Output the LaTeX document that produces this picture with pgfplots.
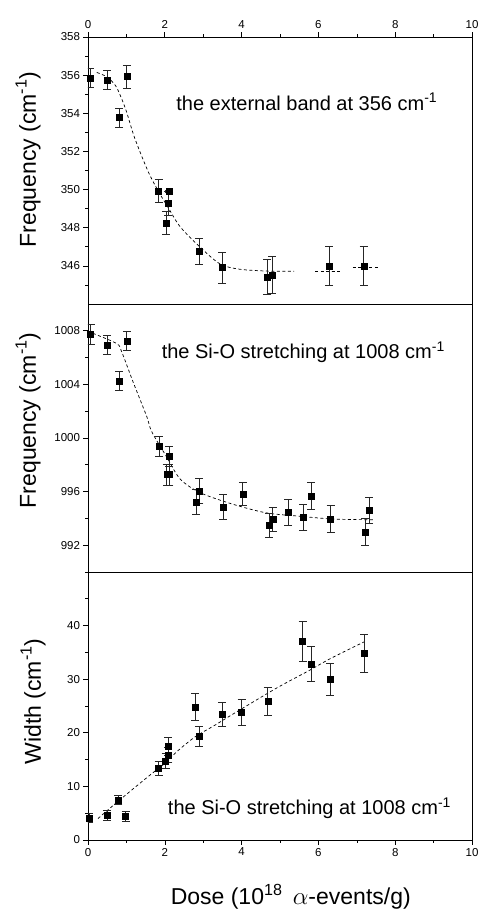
\documentclass[border=0pt]{standalone}
\usepackage{fontspec}
\setmainfont{Liberation Sans}
\usepackage{pgfplots}
\pgfplotsset{compat=1.18}

\pgfplotstableread{
x y e
0.05 355.84 0.50
0.50 355.74 0.50
0.81 353.77 0.50
1.01 355.93 0.60
1.84 349.93 0.60
2.11 349.93 0.05
2.09 349.28 0.65
2.03 348.26 0.60
2.89 346.77 0.70
3.49 345.91 0.80
4.67 345.42 0.90
4.79 345.53 0.95
6.28 346.00 1.00
7.18 346.00 1.00
}\bandtop

\pgfplotstableread{
x y e
0.07 1007.74 0.72
0.50 1006.96 0.73
0.81 1004.26 0.72
1.01 1007.24 0.70
1.86 999.39 0.77
2.11 998.63 0.75
2.05 997.27 0.78
2.12 997.27 0.78
2.81 995.22 0.95
2.90 996.05 0.95
3.52 994.86 0.93
4.03 995.83 0.87
4.71 993.48 0.92
4.81 993.95 0.88
5.21 994.46 0.97
5.61 994.08 0.98
5.81 995.67 1.00
6.32 993.95 1.00
7.22 992.97 1.00
7.32 994.61 1.00
}\sifreq

\pgfplotstableread{
x y e
0.03 4.15 0.85
0.49 4.60 0.85
0.79 7.44 0.85
0.98 4.40 0.87
1.84 13.33 1.33
2.02 14.70 1.40
2.09 15.88 1.40
2.09 17.49 1.70
2.79 24.81 2.50
2.89 19.35 1.90
3.49 23.44 2.30
4.00 23.88 2.40
4.68 25.86 2.60
5.59 37.02 3.70
5.81 32.87 3.25
6.30 29.95 3.00
7.20 34.85 3.50
}\siwidth

\pgfplotsset{
  panel/.style={
    width=384pt, height=268pt, scale only axis,
    xmin=0, xmax=10,
    axis line style={line width=0.8pt},
    tick align=outside,
    major tick length=4.5pt, minor tick length=2.5pt,
    every tick/.style={black, line width=0.6pt},
    tick label style={font=\fontsize{11.5}{11.5}\selectfont},
    /pgf/number format/assume math mode=true,
    /pgf/number format/1000 sep={},
    scaled ticks=false,
    xtick={0,2,...,10}, minor xtick={1,3,...,9},
    ytick pos=left,
  },
  ylab/.style 2 args={every axis y label/.style={at={(rel axis cs:#1,#2)},
    rotate=90, anchor=center, font=\fontsize{23}{23}\selectfont}},
  pts/.style={only marks, mark=square*, mark size=3pt, black,
    error bars/.cd, y dir=both, y explicit,
    error bar style={line width=0.6pt, black!85},
    error mark options={rotate=90, mark size=4pt, line width=0.6pt, black!85}},
  fit/.style={black, line width=0.7pt, dash pattern=on 3pt off 2.5pt, smooth, no markers},
}
\tikzset{note/.style={anchor=west, font=\fontsize{20}{20}\selectfont}}

\begin{document}
\begin{tikzpicture}
% top: external band
\begin{axis}[panel, at={(0,536pt)}, height=267pt,
  ymin=344, ymax=358,
  ytick={346,348,...,358}, minor ytick={345,347,...,357},
  xtick pos=right, xticklabel pos=right,
  ylabel={Frequency (cm\textsuperscript{-1})},
  ylab={-0.156}{0.541},
]
\addplot[fit] coordinates {(0.23,356.14) (0.5,355.9) (0.72,355.44) (0.86,354.84) (1.0,354.1)
  (1.22,352.68) (1.57,350.93) (1.85,349.85) (2.09,349.05) (2.4,348.05) (2.92,346.98)
  (3.44,346.1) (3.96,345.82) (4.74,345.72) (5.37,345.72)};
\addplot[fit] coordinates {(5.92,345.72) (6.55,345.72)};
\addplot[fit] coordinates {(6.9,345.93) (7.6,345.93)};
\addplot[pts] table[x=x, y=y, y error=e] {\bandtop};
\node[note] at (axis cs:2.21,354.6) {the external band at 356 cm\textsuperscript{-1}};
\end{axis}

% middle: Si-O frequency
\begin{axis}[panel, at={(0,268pt)},
  ymin=990, ymax=1010,
  ytick={992,996,...,1008}, minor ytick={990,994,998,1002,1006},
  xtick=\empty, minor xtick={},
  ylabel={Frequency (cm\textsuperscript{-1})},
  ylab={-0.156}{0.566},
]
\addplot[fit] coordinates {(0.0,1008.0) (0.14,1007.8) (0.75,1007.04) (0.88,1006.41) (1.18,1004.14)
  (1.53,1001.6) (1.66,1000.47) (2.05,998.58) (2.4,996.94) (2.92,995.92) (3.78,995.05)
  (4.65,994.41) (5.52,994.16) (6.39,993.95) (7.43,993.9)};
\addplot[pts] table[x=x, y=y, y error=e] {\sifreq};
\node[note] at (axis cs:1.83,1006.4) {the Si-O stretching at 1008 cm\textsuperscript{-1}};
\end{axis}

% bottom: Si-O width
\begin{axis}[panel, at={(0,0)},
  ymin=0, ymax=50,
  ytick={0,10,...,40}, minor ytick={5,15,...,45},
  xtick pos=left, xticklabel pos=left,
  ylabel={Width (cm\textsuperscript{-1})},
  ylab={-0.143}{0.517},
  xlabel={Dose (10\textsuperscript{18}\hspace{0.45em}$\alpha$-events/g)},
  every axis x label/.style={at={(rel axis cs:0.528,-0.211)}, anchor=center,
    font=\fontsize{23}{23}\selectfont},
]
\addplot[fit] coordinates {(0.26,4.0) (0.78,7.2) (1.56,11.8) (2.0,14.3) (2.3,16.4)
  (2.78,19.2) (3.3,21.4) (3.8,23.6) (4.9,28.3) (5.78,31.7) (6.3,33.8) (7.2,37.0)};
\addplot[pts] table[x=x, y=y, y error=e] {\siwidth};
\node[note] at (axis cs:1.99,5.9) {the Si-O stretching at 1008 cm\textsuperscript{-1}};
\end{axis}

\pgfresetboundingbox
\path (-88pt,-70pt) rectangle (392pt,840pt);
\end{tikzpicture}
\end{document}
